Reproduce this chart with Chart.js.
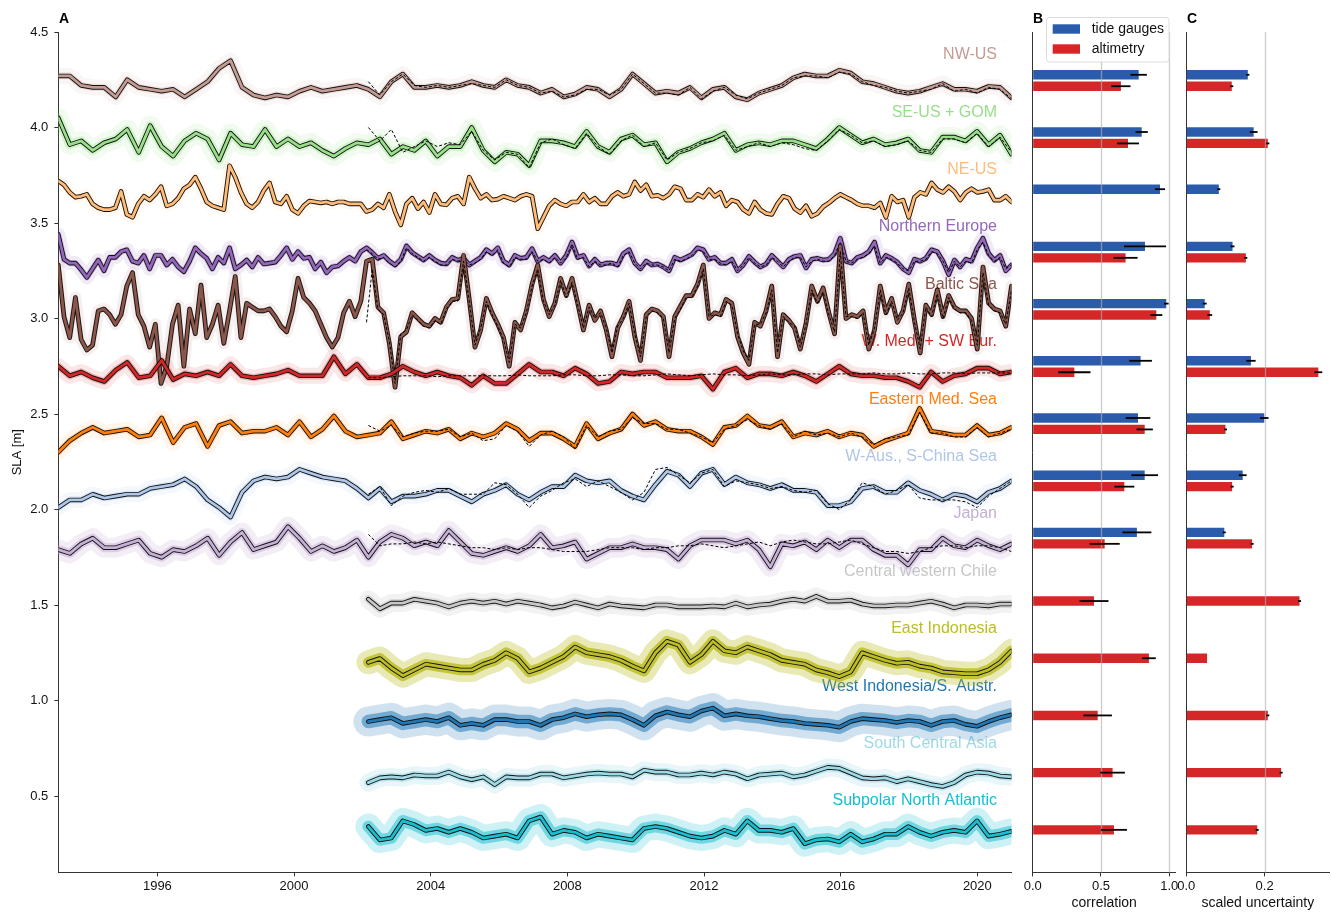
<!DOCTYPE html>
<html>
<head>
<meta charset="utf-8">
<title>Regional sea level anomalies</title>
<script src="https://cdn.jsdelivr.net/npm/chart.js@4.4.1/dist/chart.umd.min.js"></script>
<style>
  html, body { margin: 0; padding: 0; background: #fff; }
  #wrap { position: relative; width: 1332px; height: 912px; }
  #wrap canvas { position: absolute; left: 0; top: 0; }
</style>
</head>
<body>
<div id="wrap">
  <canvas id="panel-a" width="1332" height="912"></canvas>
  <canvas id="panel-b" width="1332" height="912"></canvas>
  <canvas id="panel-c" width="1332" height="912"></canvas>
</div>
<script>
// ---- time axis (records sampled every ~4 months, 1993 - 2021; the spikiest every ~2 months) ----
const T_FIRST = 1993.1;
const T_LAST = 2021.0;
const N_TIMES = 84;
const N_FINE = 168;

const regions = [
  "NW-US", "SE-US + GOM", "NE-US", "Northern Europe", "Baltic Sea",
  "W. Med. + SW Eur.", "Eastern Med. Sea", "W-Aus., S-China Sea", "Japan",
  "Central western Chile", "East Indonesia", "West Indonesia/S. Austr.",
  "South Central Asia", "Subpolar North Atlantic"
];
const regionColors = [
  "#c49c94", "#98df8a", "#ffbb78", "#9467bd", "#8c564b",
  "#d62728", "#ff7f0e", "#aec7e8", "#c5b0d5",
  "#c7c7c7", "#bcbd22", "#1f77b4",
  "#9edae5", "#17becf"
];

const yearTicks = [1996, 2000, 2004, 2008, 2012, 2016, 2020];
const slaTicks = [0.5, 1.0, 1.5, 2.0, 2.5, 3.0, 3.5, 4.0, 4.5];
const corrTicks = [0, 0.5, 1.0];
const uncTicks = [0, 0.2];

// ---- SLA reconstructions [m], offset per region as in the figure ----
const nwUs = [
  4.27, 4.27, 4.22, 4.21, 4.21, 4.16, 4.25, 4.21, 4.20, 4.19,
  4.20, 4.16, 4.20, 4.24, 4.31, 4.35, 4.21, 4.17, 4.155, 4.17,
  4.16, 4.19, 4.21, 4.19, 4.20, 4.21, 4.22, 4.20, 4.16, 4.24,
  4.28, 4.21, 4.21, 4.22, 4.21, 4.22, 4.24, 4.22, 4.21, 4.25,
  4.22, 4.21, 4.18, 4.20, 4.16, 4.175, 4.21, 4.20, 4.16, 4.20,
  4.28, 4.23, 4.18, 4.19, 4.18, 4.21, 4.155, 4.20, 4.21, 4.16,
  4.145, 4.18, 4.20, 4.22, 4.26, 4.28, 4.27, 4.27, 4.30, 4.285,
  4.24, 4.23, 4.21, 4.19, 4.18, 4.19, 4.21, 4.23, 4.20, 4.20,
  4.19, 4.215, 4.21, 4.155
];
const seUs = [
  4.05, 3.91, 3.93, 3.88, 3.92, 3.94, 3.99, 3.87, 4.01, 3.90,
  3.85, 3.93, 3.97, 3.94, 3.83, 3.97, 3.91, 3.90, 3.99, 3.90,
  3.94, 3.90, 3.92, 3.88, 3.85, 3.89, 3.92, 3.91, 3.94, 3.86,
  3.90, 3.88, 3.93, 3.85, 3.90, 3.90, 4.00, 3.88, 3.82, 3.87,
  3.86, 3.80, 3.93, 3.93, 3.92, 3.90, 3.98, 3.90, 3.87, 3.94,
  3.96, 3.91, 3.92, 3.82, 3.87, 3.89, 3.92, 3.94, 3.97, 3.88,
  3.91, 3.92, 3.91, 3.93, 3.93, 3.91, 3.89, 3.94, 4.00, 3.96,
  3.92, 3.94, 3.91, 3.92, 3.94, 3.88, 3.87, 3.95, 3.95, 3.93,
  3.98, 3.91, 3.96, 3.86
];
// NE-US, Northern Europe and Baltic read at twice the time resolution
const neUs = [
  3.72, 3.70, 3.66, 3.635, 3.64, 3.65, 3.60, 3.58, 3.57, 3.57,
  3.58, 3.665, 3.545, 3.53, 3.60, 3.64, 3.62, 3.65, 3.69, 3.59,
  3.60, 3.63, 3.68, 3.70, 3.74, 3.68, 3.61, 3.59, 3.58, 3.57,
  3.80, 3.74, 3.66, 3.60, 3.58, 3.61, 3.67, 3.71, 3.61, 3.60,
  3.64, 3.57, 3.55, 3.59, 3.615, 3.61, 3.605, 3.61, 3.60, 3.61,
  3.61, 3.60, 3.60, 3.60, 3.56, 3.57, 3.60, 3.58, 3.65, 3.56,
  3.49, 3.60, 3.63, 3.575, 3.61, 3.555, 3.65, 3.60, 3.595, 3.63,
  3.64, 3.60, 3.74, 3.68, 3.63, 3.65, 3.62, 3.625, 3.64, 3.63,
  3.62, 3.64, 3.65, 3.64, 3.47, 3.53, 3.59, 3.62, 3.60, 3.59,
  3.61, 3.61, 3.65, 3.61, 3.63, 3.60, 3.60, 3.64, 3.66, 3.64,
  3.65, 3.715, 3.67, 3.70, 3.64, 3.645, 3.63, 3.65, 3.69, 3.68,
  3.62, 3.62, 3.65, 3.635, 3.675, 3.64, 3.66, 3.59, 3.62, 3.61,
  3.57, 3.55, 3.61, 3.57, 3.55, 3.545, 3.60, 3.64, 3.63, 3.575,
  3.555, 3.59, 3.535, 3.55, 3.585, 3.605, 3.63, 3.65, 3.635, 3.62,
  3.60, 3.59, 3.59, 3.58, 3.605, 3.53, 3.64, 3.61, 3.62, 3.53,
  3.635, 3.66, 3.65, 3.71, 3.675, 3.66, 3.69, 3.665, 3.62, 3.66,
  3.68, 3.66, 3.665, 3.675, 3.62, 3.62, 3.64, 3.61
];
const northEurope = [
  3.44, 3.31, 3.29, 3.29, 3.255, 3.215, 3.26, 3.306, 3.25, 3.32,
  3.32, 3.35, 3.36, 3.30, 3.29, 3.33, 3.26, 3.33, 3.33, 3.28,
  3.31, 3.27, 3.245, 3.30, 3.37, 3.34, 3.315, 3.26, 3.32, 3.29,
  3.37, 3.26, 3.28, 3.306, 3.27, 3.32, 3.285, 3.29, 3.295, 3.33,
  3.37, 3.31, 3.35, 3.315, 3.32, 3.26, 3.295, 3.24, 3.27, 3.275,
  3.30, 3.32, 3.30, 3.35, 3.37, 3.345, 3.315, 3.33, 3.30, 3.28,
  3.31, 3.38, 3.345, 3.325, 3.306, 3.33, 3.306, 3.29, 3.285, 3.32,
  3.305, 3.315, 3.28, 3.30, 3.32, 3.36, 3.34, 3.37, 3.30, 3.28,
  3.33, 3.315, 3.32, 3.365, 3.30, 3.32, 3.30, 3.33, 3.29, 3.33,
  3.40, 3.32, 3.33, 3.275, 3.31, 3.28, 3.29, 3.29, 3.28, 3.34,
  3.36, 3.29, 3.26, 3.30, 3.28, 3.285, 3.27, 3.25, 3.32, 3.306,
  3.32, 3.335, 3.37, 3.36, 3.31, 3.32, 3.29, 3.29, 3.31, 3.25,
  3.28, 3.325, 3.295, 3.27, 3.285, 3.33, 3.30, 3.27, 3.31, 3.325,
  3.33, 3.265, 3.31, 3.315, 3.306, 3.31, 3.34, 3.42, 3.30, 3.29,
  3.32, 3.33, 3.35, 3.40, 3.29, 3.33, 3.315, 3.295, 3.26, 3.24,
  3.31, 3.30, 3.315, 3.36, 3.35, 3.30, 3.23, 3.306, 3.27, 3.31,
  3.30, 3.37, 3.42, 3.34, 3.305, 3.33, 3.25, 3.28
];
const baltic = [
  3.28, 3.01, 2.90, 3.11, 2.89, 2.835, 2.86, 3.04, 3.05, 3.02,
  2.97, 3.02, 3.17, 3.24, 3.02, 2.96, 2.85, 2.97, 2.66, 2.75,
  2.97, 3.07, 2.75, 3.05, 2.92, 3.175, 2.90, 2.97, 3.07, 2.87,
  3.04, 3.22, 2.90, 3.08, 3.06, 3.04, 3.04, 3.05, 3.01, 2.96,
  2.93, 3.04, 3.21, 3.11, 3.08, 3.04, 2.97, 2.90, 2.85, 2.90,
  3.03, 3.09, 3.01, 3.09, 3.30, 3.31, 3.06, 3.03, 2.87, 2.64,
  2.905, 2.93, 3.03, 3.00, 2.97, 2.96, 3.00, 2.98, 3.06, 3.10,
  3.105, 3.33, 3.10, 2.85, 2.94, 3.105, 3.03, 2.97, 2.90, 2.75,
  2.98, 2.94, 3.04, 3.18, 3.28, 3.10, 3.01, 3.08, 3.21, 3.12,
  3.21, 3.08, 2.94, 3.07, 2.99, 3.04, 2.94, 2.80, 2.95, 3.01,
  3.09, 2.905, 2.78, 3.02, 3.05, 3.04, 3.01, 2.80, 3.01, 3.065,
  3.12, 3.12, 3.18, 3.28, 3.00, 3.03, 3.02, 3.10, 3.08, 2.905,
  2.82, 2.76, 2.98, 2.96, 3.04, 3.17, 2.80, 3.02, 2.99, 2.95,
  2.84, 2.975, 3.17, 3.09, 3.16, 3.03, 2.92, 3.38, 3.00, 3.02,
  3.01, 3.04, 2.84, 2.94, 3.17, 3.03, 3.105, 2.98, 3.04, 3.18,
  2.99, 2.82, 3.07, 3.02, 3.15, 3.01, 3.12, 3.06, 3.04, 3.04,
  3.00, 2.84, 3.27, 3.08, 3.05, 3.04, 2.96, 3.17
];
const wMed = [
  2.75, 2.70, 2.72, 2.69, 2.67, 2.73, 2.77, 2.69, 2.70, 2.78,
  2.68, 2.71, 2.70, 2.72, 2.70, 2.76, 2.70, 2.69, 2.70, 2.71,
  2.73, 2.70, 2.70, 2.70, 2.80, 2.71, 2.76, 2.69, 2.69, 2.71,
  2.75, 2.72, 2.70, 2.72, 2.70, 2.69, 2.65, 2.70, 2.66, 2.66,
  2.71, 2.76, 2.72, 2.72, 2.70, 2.74, 2.71, 2.66, 2.67, 2.72,
  2.71, 2.72, 2.72, 2.69, 2.69, 2.69, 2.70, 2.63, 2.72, 2.74,
  2.69, 2.71, 2.71, 2.70, 2.72, 2.70, 2.67, 2.71, 2.75, 2.71,
  2.70, 2.70, 2.69, 2.69, 2.67, 2.64, 2.72, 2.67, 2.70, 2.71,
  2.74, 2.74, 2.71, 2.72
];
const eMed = [
  2.30, 2.36, 2.40, 2.43, 2.40, 2.41, 2.42, 2.38, 2.39, 2.48,
  2.35, 2.43, 2.45, 2.33, 2.44, 2.46, 2.40, 2.41, 2.41, 2.43,
  2.39, 2.46, 2.38, 2.42, 2.49, 2.41, 2.38, 2.39, 2.40, 2.46,
  2.37, 2.39, 2.41, 2.40, 2.42, 2.37, 2.40, 2.38, 2.40, 2.45,
  2.42, 2.36, 2.40, 2.40, 2.37, 2.33, 2.45, 2.37, 2.40, 2.42,
  2.50, 2.44, 2.46, 2.42, 2.41, 2.41, 2.38, 2.34, 2.43, 2.44,
  2.49, 2.44, 2.43, 2.46, 2.38, 2.40, 2.39, 2.41, 2.38, 2.40,
  2.39, 2.33, 2.36, 2.38, 2.40, 2.53, 2.41, 2.40, 2.39, 2.39,
  2.44, 2.39, 2.40, 2.43
];
const wAus = [
  2.01, 2.05, 2.05, 2.08, 2.06, 2.07, 2.08, 2.08, 2.11, 2.12,
  2.13, 2.16, 2.12, 2.05, 2.01, 1.96, 2.09, 2.15, 2.17, 2.16,
  2.17, 2.21, 2.19, 2.17, 2.16, 2.15, 2.11, 2.06, 2.11, 2.04,
  2.07, 2.07, 2.08, 2.10, 2.10, 2.07, 2.04, 2.08, 2.10, 2.13,
  2.08, 2.05, 2.09, 2.12, 2.12, 2.18, 2.15, 2.14, 2.15, 2.10,
  2.07, 2.05, 2.13, 2.20, 2.18, 2.12, 2.19, 2.21, 2.13, 2.17,
  2.14, 2.13, 2.11, 2.13, 2.10, 2.10, 2.09, 2.02, 2.02, 2.04,
  2.11, 2.12, 2.09, 2.09, 2.14, 2.10, 2.08, 2.05, 2.08, 2.07,
  2.04, 2.09, 2.11, 2.15
];
const japan = [
  1.79, 1.77, 1.82, 1.85, 1.80, 1.80, 1.82, 1.84, 1.77, 1.75,
  1.79, 1.78, 1.81, 1.85, 1.76, 1.83, 1.88, 1.79, 1.81, 1.83,
  1.91, 1.85, 1.78, 1.81, 1.78, 1.80, 1.84, 1.75, 1.83, 1.87,
  1.85, 1.81, 1.83, 1.81, 1.89, 1.83, 1.77, 1.76, 1.78, 1.80,
  1.78, 1.81, 1.87, 1.80, 1.81, 1.83, 1.74, 1.77, 1.80, 1.80,
  1.82, 1.80, 1.80, 1.79, 1.74, 1.81, 1.84, 1.84, 1.84, 1.82,
  1.84, 1.79, 1.70, 1.82, 1.81, 1.83, 1.79, 1.84, 1.80, 1.84,
  1.84, 1.79, 1.76, 1.76, 1.71, 1.79, 1.79, 1.85, 1.81, 1.80,
  1.84, 1.81, 1.79, 1.82
];
// altimetry-only regions start in 2002
const chile = [
  1.53, 1.48, 1.51, 1.51, 1.53, 1.52, 1.51, 1.49, 1.51, 1.52,
  1.51, 1.52, 1.505, 1.52, 1.51, 1.50, 1.485, 1.495, 1.515, 1.50,
  1.485, 1.505, 1.495, 1.49, 1.485, 1.50, 1.50, 1.49, 1.49, 1.49,
  1.495, 1.49, 1.51, 1.49, 1.50, 1.505, 1.52, 1.53, 1.52, 1.545,
  1.52, 1.52, 1.525, 1.505, 1.495, 1.495, 1.50, 1.50, 1.51, 1.52,
  1.505, 1.485, 1.50, 1.50, 1.495, 1.505, 1.505
];
const eastIndonesia = [
  1.20, 1.22, 1.17, 1.13, 1.16, 1.19, 1.18, 1.17, 1.16, 1.16,
  1.19, 1.21, 1.25, 1.22, 1.15, 1.17, 1.20, 1.23, 1.28, 1.25,
  1.24, 1.23, 1.21, 1.18, 1.155, 1.25, 1.31, 1.29, 1.20, 1.24,
  1.31, 1.26, 1.25, 1.28, 1.26, 1.24, 1.21, 1.20, 1.19, 1.16,
  1.145, 1.125, 1.15, 1.25, 1.23, 1.21, 1.195, 1.20, 1.18, 1.17,
  1.15, 1.145, 1.14, 1.14, 1.16, 1.20, 1.26
];
const westIndonesia = [
  0.89, 0.90, 0.91, 0.88, 0.89, 0.90, 0.89, 0.91, 0.87, 0.88,
  0.87, 0.90, 0.90, 0.89, 0.89, 0.87, 0.90, 0.91, 0.93, 0.915,
  0.925, 0.93, 0.925, 0.90, 0.87, 0.92, 0.94, 0.925, 0.915, 0.945,
  0.96, 0.92, 0.93, 0.92, 0.915, 0.905, 0.895, 0.89, 0.88, 0.875,
  0.87, 0.86, 0.89, 0.905, 0.90, 0.895, 0.885, 0.895, 0.89, 0.87,
  0.89, 0.895, 0.875, 0.865, 0.89, 0.91, 0.925
];
const southCentralAsia = [
  0.57, 0.595, 0.60, 0.595, 0.61, 0.605, 0.605, 0.625, 0.60, 0.585,
  0.60, 0.56, 0.60, 0.595, 0.595, 0.615, 0.615, 0.595, 0.605, 0.615,
  0.62, 0.615, 0.615, 0.60, 0.635, 0.625, 0.625, 0.61, 0.61, 0.62,
  0.61, 0.625, 0.615, 0.59, 0.61, 0.615, 0.62, 0.60, 0.61, 0.63,
  0.65, 0.645, 0.62, 0.595, 0.59, 0.595, 0.575, 0.59, 0.575, 0.56,
  0.55, 0.57, 0.61, 0.625, 0.62, 0.605, 0.60
];
const subpolarAtlantic = [
  0.34, 0.27, 0.28, 0.37, 0.35, 0.32, 0.33, 0.31, 0.33, 0.31,
  0.28, 0.29, 0.30, 0.28, 0.37, 0.39, 0.30, 0.32, 0.31, 0.28,
  0.30, 0.29, 0.28, 0.27, 0.33, 0.34, 0.33, 0.31, 0.29, 0.28,
  0.29, 0.32, 0.30, 0.37, 0.32, 0.32, 0.31, 0.33, 0.25, 0.27,
  0.275, 0.26, 0.30, 0.26, 0.275, 0.30, 0.30, 0.34, 0.31, 0.29,
  0.31, 0.32, 0.31, 0.37, 0.29, 0.30, 0.315
];

// ---- comparison records from 2002 (dashed black) ----
const nwUsAlt = [
  4.24, 4.17, 4.24, 4.28, 4.22, 4.21, 4.22, 4.21, 4.22, 4.23,
  4.22, 4.21, 4.25, 4.22, 4.21, 4.18, 4.19, 4.16, 4.17, 4.20,
  4.20, 4.17, 4.20, 4.28, 4.23, 4.18, 4.18, 4.17, 4.21, 4.15,
  4.19, 4.21, 4.17, 4.15, 4.18, 4.20, 4.22, 4.26, 4.27, 4.27,
  4.26, 4.29, 4.28, 4.24, 4.22, 4.21, 4.19, 4.18, 4.19, 4.20,
  4.23, 4.19, 4.20, 4.18, 4.21, 4.20, 4.15
];
const seUsAlt = [
  4.00, 3.93, 3.99, 3.87, 3.90, 3.93, 3.90, 3.92, 3.91, 3.98,
  3.88, 3.83, 3.87, 3.86, 3.79, 3.92, 3.94, 3.91, 3.89, 3.97,
  3.90, 3.86, 3.93, 3.96, 3.90, 3.92, 3.83, 3.87, 3.89, 3.92,
  3.93, 3.96, 3.88, 3.90, 3.92, 3.90, 3.92, 3.91, 3.89, 3.88,
  3.93, 3.99, 3.96, 3.92, 3.93, 3.90, 3.91, 3.93, 3.88, 3.87,
  3.94, 3.94, 3.92, 3.97, 3.90, 3.95, 3.87
];
const northEuropeAlt = [
  3.36, 3.34, 3.31, 3.32, 3.29, 3.27,
  3.30, 3.37, 3.34, 3.32, 3.30, 3.32, 3.30, 3.28, 3.28, 3.31,
  3.30, 3.31, 3.28, 3.29, 3.31, 3.35, 3.33, 3.36, 3.29, 3.27,
  3.32, 3.31, 3.31, 3.35, 3.30, 3.31, 3.29, 3.32, 3.29, 3.32,
  3.39, 3.31, 3.32, 3.27, 3.30, 3.28, 3.28, 3.29, 3.27, 3.33,
  3.35, 3.29, 3.26, 3.29, 3.28, 3.28, 3.27, 3.25, 3.31, 3.30,
  3.31, 3.33, 3.36, 3.35, 3.31, 3.31, 3.29, 3.28, 3.30, 3.25,
  3.28, 3.32, 3.29, 3.27, 3.28, 3.32, 3.30, 3.27, 3.30, 3.32,
  3.32, 3.27, 3.30, 3.31, 3.30, 3.30, 3.33, 3.40, 3.30, 3.29,
  3.31, 3.32, 3.34, 3.38, 3.29, 3.32, 3.31, 3.29, 3.26, 3.25,
  3.30, 3.30, 3.31, 3.35, 3.34, 3.30, 3.24, 3.30, 3.27, 3.30,
  3.29, 3.36, 3.40, 3.33, 3.30, 3.32, 3.26, 3.28
];
const balticAlt = [
  2.98, 3.26, 3.05, 3.02, 2.88, 2.66,
  2.92, 2.94, 3.02, 2.99, 2.96, 2.95, 2.99, 2.97, 3.05, 3.09,
  3.09, 3.30, 3.09, 2.86, 2.95, 3.09, 3.02, 2.96, 2.89, 2.77,
  2.97, 2.95, 3.03, 3.17, 3.26, 3.09, 3.02, 3.07, 3.20, 3.11,
  3.19, 3.07, 2.95, 3.06, 3.00, 3.03, 2.95, 2.82, 2.96, 3.00,
  3.08, 2.92, 2.80, 3.01, 3.04, 3.03, 3.00, 2.82, 3.00, 3.05,
  3.11, 3.11, 3.17, 3.26, 3.01, 3.02, 3.01, 3.09, 3.07, 2.92,
  2.83, 2.78, 2.97, 2.97, 3.03, 3.15, 2.82, 3.01, 2.98, 2.96,
  2.85, 2.97, 3.15, 3.08, 3.14, 3.02, 2.93, 3.35, 3.01, 3.01,
  3.00, 3.03, 2.86, 2.95, 3.15, 3.02, 3.09, 2.99, 3.03, 3.16,
  2.98, 2.84, 3.06, 3.01, 3.13, 3.00, 3.11, 3.05, 3.03, 3.03,
  2.99, 2.86, 3.24, 3.07, 3.04, 3.03, 2.97, 3.15
];
const wMedAlt = [
  2.690, 2.690, 2.695, 2.700, 2.700, 2.700, 2.695, 2.700, 2.700, 2.700,
  2.700, 2.700, 2.700, 2.705, 2.700, 2.700, 2.700, 2.705, 2.705, 2.700,
  2.700, 2.705, 2.705, 2.700, 2.700, 2.705, 2.710, 2.705, 2.700, 2.705,
  2.710, 2.705, 2.705, 2.700, 2.705, 2.710, 2.705, 2.705, 2.710, 2.710,
  2.705, 2.710, 2.710, 2.710, 2.715, 2.710, 2.710, 2.715, 2.710, 2.710,
  2.715, 2.715, 2.710, 2.715, 2.715, 2.715, 2.715
];
const eMedAlt = [
  2.44, 2.41, 2.44, 2.38, 2.40, 2.41, 2.41, 2.42, 2.38, 2.40,
  2.36, 2.37, 2.44, 2.41, 2.33, 2.39, 2.41, 2.38, 2.32, 2.44,
  2.38, 2.41, 2.42, 2.48, 2.45, 2.45, 2.42, 2.42, 2.40, 2.38,
  2.35, 2.42, 2.44, 2.47, 2.44, 2.42, 2.45, 2.38, 2.41, 2.39,
  2.40, 2.38, 2.40, 2.38, 2.34, 2.37, 2.38, 2.39, 2.51, 2.40,
  2.40, 2.38, 2.38, 2.43, 2.38, 2.40, 2.42
];
const wAusAlt = [
  2.08, 2.12, 2.02, 2.07, 2.09, 2.10, 2.09, 2.11, 2.08, 2.08,
  2.08, 2.14, 2.13, 2.08, 2.01, 2.07, 2.10, 2.14, 2.16, 2.12,
  2.15, 2.12, 2.09, 2.05, 2.09, 2.21, 2.22, 2.18, 2.14, 2.19,
  2.21, 2.12, 2.15, 2.14, 2.13, 2.11, 2.12, 2.10, 2.09, 2.10,
  2.03, 2.00, 2.05, 2.14, 2.12, 2.08, 2.10, 2.13, 2.06, 2.05,
  2.05, 2.05, 2.04, 2.01, 2.07, 2.11, 2.15
];
const japanAlt = [
  1.87, 1.81, 1.82, 1.82, 1.83, 1.82, 1.83, 1.82, 1.81, 1.80,
  1.80, 1.79, 1.80, 1.79, 1.80, 1.80, 1.79, 1.78, 1.78, 1.78,
  1.79, 1.80, 1.80, 1.80, 1.79, 1.80, 1.80, 1.81, 1.81, 1.82,
  1.81, 1.80, 1.81, 1.82, 1.83, 1.81, 1.83, 1.84, 1.83, 1.82,
  1.82, 1.83, 1.84, 1.82, 1.80, 1.78, 1.78, 1.77, 1.78, 1.80,
  1.81, 1.81, 1.80, 1.81, 1.81, 1.80, 1.78
];

const slaSeries = [
  nwUs, seUs, neUs, northEurope, baltic, wMed, eMed, wAus, japan,
  chile, eastIndonesia, westIndonesia, southCentralAsia, subpolarAtlantic
];
const altSeries = [
  nwUsAlt, seUsAlt, null, northEuropeAlt, balticAlt, wMedAlt, eMedAlt, wAusAlt, japanAlt,
  null, null, null, null, null
];

// ---- panel B: correlation, panel C: scaled uncertainty ----
const tgCorr = [0.776, 0.798, 0.932, 0.822, 0.978, 0.790, 0.771, 0.820, 0.763, null, null, null, null, null];
const tgCorrErr = [0.06, 0.045, 0.037, 0.154, 0.017, 0.083, 0.09, 0.098, 0.106, null, null, null, null, null];
const altCorr = [0.646, 0.698, null, 0.680, 0.905, 0.305, 0.820, 0.671, 0.527, 0.449, 0.851, 0.476, 0.585, 0.595];
const altCorrErr = [0.07, 0.08, null, 0.088, 0.044, 0.118, 0.06, 0.073, 0.11, 0.106, 0.05, 0.104, 0.09, 0.095];
const tgUnc = [0.157, 0.172, 0.083, 0.118, 0.047, 0.165, 0.199, 0.144, 0.097, null, null, null, null, null];
const tgUncErr = [0.004, 0.01, 0.003, 0.005, 0.005, 0.012, 0.011, 0.01, 0.003, null, null, null, null, null];
const altUnc = [0.116, 0.208, null, 0.152, 0.060, 0.337, 0.100, 0.117, 0.168, 0.289, 0.053, 0.208, 0.242, 0.181];
const altUncErr = [0.003, 0.004, null, 0.003, 0.006, 0.01, 0.003, 0.003, 0.003, 0.003, 0, 0.003, 0.003, 0.003];

(function () {
  "use strict";

  const FONT = '"Liberation Sans", Arial, Helvetica, sans-serif';
  const AXIS_COLOR = "#333";
  const TG_BLUE = "#2b5cab";
  const ALT_RED = "#d62728";

  // ensemble spread look: wide translucent stroke under each line
  const haloWidth = [16, 20, 12, 14, 12, 16, 16, 16, 20, 18, 24, 30, 18, 26];
  const haloAlpha = [0.16, 0.22, 0.14, 0.22, 0.15, 0.18, 0.12, 0.22, 0.35, 0.38, 0.55, 0.35, 0.40, 0.35];

  Chart.defaults.font.family = FONT;
  Chart.defaults.font.size = 13;
  Chart.defaults.color = "#111";

  function timeGrid(n) {
    return Array.from({ length: n }, (_, i) => T_FIRST + (i * (T_LAST - T_FIRST)) / (n - 1));
  }
  const times = timeGrid(N_TIMES);
  const timesFine = timeGrid(N_FINE);

  function rgba(hex, a) {
    const n = parseInt(hex.slice(1), 16);
    return `rgba(${(n >> 16) & 255},${(n >> 8) & 255},${n & 255},${a})`;
  }

  // records end in 2021; shorter ones start later on the same grid
  function toPoints(values) {
    const grid = values.length > N_TIMES ? timesFine : times;
    const offset = grid.length - values.length;
    return values.map((v, i) => ({ x: grid[offset + i], y: v }));
  }

  function lineDataset(points, color, width, order, extra) {
    return Object.assign(
      {
        data: points,
        borderColor: color,
        borderWidth: width,
        pointRadius: 0,
        tension: 0,
        fill: false,
        order: order,
        borderJoinStyle: "round",
        borderCapStyle: "round",
      },
      extra || {}
    );
  }

  function buildSeriesDatasets() {
    const datasets = [];
    slaSeries.forEach((values, r) => {
      const pts = toPoints(values);
      const color = regionColors[r];
      datasets.push(lineDataset(pts, rgba(color, haloAlpha[r] * 0.6), haloWidth[r], 2000 - 2 * r));
      datasets.push(lineDataset(pts, rgba(color, Math.min(1, haloAlpha[r] * 1.5)), haloWidth[r] * 0.45, 1999 - 2 * r));
      datasets.push(lineDataset(pts, "#111", 4.6, 300 - 3 * r));
      datasets.push(lineDataset(pts, color, 2.8, 299 - 3 * r));
      if (altSeries[r]) {
        datasets.push(
          lineDataset(toPoints(altSeries[r]), "#000", 1, 298 - 3 * r, {
            borderDash: [3, 2],
            borderCapStyle: "butt",
            borderJoinStyle: "miter",
          })
        );
      }
    });
    return datasets;
  }

  // region names, right aligned inside panel A
  const regionLabelPlugin = {
    id: "regionLabels",
    beforeDatasetsDraw(chart) {
      const ctx = chart.ctx;
      ctx.save();
      ctx.font = "16px " + FONT;
      ctx.textAlign = "right";
      ctx.textBaseline = "middle";
      regions.forEach((name, r) => {
        ctx.fillStyle = regionColors[r];
        ctx.fillText(name, 997, 54.7 + r * 57.4);
      });
      ctx.restore();
    },
  };

  function panelLetter(letter, x) {
    return {
      id: "letter" + letter,
      afterDraw(chart) {
        const ctx = chart.ctx;
        ctx.save();
        ctx.font = "bold 14px " + FONT;
        ctx.fillStyle = "#000";
        ctx.textAlign = "left";
        ctx.textBaseline = "middle";
        ctx.fillText(letter, x, 19);
        ctx.restore();
      },
    };
  }

  // light vertical reference lines drawn over the bars
  function refLinePlugin(values) {
    return {
      id: "refLines",
      afterDatasetsDraw(chart) {
        const ctx = chart.ctx;
        const xs = chart.scales.x;
        const area = chart.chartArea;
        ctx.save();
        ctx.strokeStyle = "rgba(175,175,175,0.65)";
        ctx.lineWidth = 1.3;
        values.forEach((v) => {
          const px = Math.round(xs.getPixelForValue(v)) + 0.5;
          ctx.beginPath();
          ctx.moveTo(px, area.top);
          ctx.lineTo(px, area.bottom);
          ctx.stroke();
        });
        ctx.restore();
      },
    };
  }

  const errorBarPlugin = {
    id: "errorBars",
    afterDatasetsDraw(chart) {
      const ctx = chart.ctx;
      const xs = chart.scales.x;
      ctx.save();
      ctx.strokeStyle = "#000";
      ctx.lineWidth = 1.8;
      chart.data.datasets.forEach((ds, d) => {
        const meta = chart.getDatasetMeta(d);
        meta.data.forEach((bar, i) => {
          const pt = ds.data[i];
          if (!pt || !pt.err) return;
          let x0 = xs.getPixelForValue(pt.x - pt.err);
          let x1 = xs.getPixelForValue(pt.x + pt.err);
          if (x1 - x0 < 3) {
            const mid = (x0 + x1) / 2;
            x0 = mid - 1.5;
            x1 = mid + 1.5;
          }
          ctx.beginPath();
          ctx.moveTo(x0, bar.y);
          ctx.lineTo(x1, bar.y);
          ctx.stroke();
        });
      });
      ctx.restore();
    },
  };

  const legendPlugin = {
    id: "barLegend",
    afterDraw(chart) {
      const ctx = chart.ctx;
      ctx.save();
      ctx.fillStyle = "rgba(255,255,255,0.85)";
      ctx.strokeStyle = "#dcdcdc";
      ctx.lineWidth = 1;
      ctx.beginPath();
      ctx.roundRect(1046.5, 17.5, 122.5, 44.5, 3);
      ctx.fill();
      ctx.stroke();
      const items = [
        ["tide gauges", TG_BLUE, 29],
        ["altimetry", ALT_RED, 49],
      ];
      ctx.font = "14px " + FONT;
      ctx.textAlign = "left";
      ctx.textBaseline = "middle";
      items.forEach(([text, color, y]) => {
        ctx.fillStyle = color;
        ctx.fillRect(1052.7, y - 4.7, 27.3, 9.4);
        ctx.fillStyle = "#111";
        ctx.fillText(text, 1091.7, y);
      });
      ctx.restore();
    },
  };

  function renderPanelA() {
    return new Chart(document.getElementById("panel-a"), {
      type: "line",
      data: { datasets: buildSeriesDatasets() },
      options: {
        responsive: false,
        animation: false,
        devicePixelRatio: 1,
        events: [],
        layout: { padding: { left: 0, right: 320.5, top: 32, bottom: 0 } },
        plugins: { legend: { display: false }, tooltip: { enabled: false } },
        scales: {
          x: {
            type: "linear",
            min: T_FIRST,
            max: T_LAST,
            afterBuildTicks: (s) => {
              s.ticks = yearTicks.map((v) => ({ value: v }));
            },
            afterFit: (s) => {
              s.height = 39.6;
            },
            ticks: { padding: 2, color: "#111", callback: (v) => String(v) },
            grid: { drawOnChartArea: false, tickLength: 4, tickColor: AXIS_COLOR },
            border: { color: AXIS_COLOR, width: 1 },
          },
          y: {
            type: "linear",
            min: 0.1,
            max: 4.5,
            afterBuildTicks: (s) => {
              s.ticks = slaTicks.map((v) => ({ value: v }));
            },
            afterFit: (s) => {
              s.width = 58.3;
            },
            ticks: { padding: 6, color: "#111", callback: (v) => Number(v).toFixed(1) },
            grid: { drawOnChartArea: false, tickLength: 4, tickColor: AXIS_COLOR },
            border: { color: AXIS_COLOR, width: 1 },
            title: { display: true, text: "SLA [m]", color: "#111", font: { size: 13 }, padding: { top: 10, bottom: 0 } },
          },
        },
      },
      plugins: [regionLabelPlugin, panelLetter("A", 59)],
    });
  }

  function barPoints(values, errors) {
    const pts = [];
    values.forEach((v, row) => {
      if (v !== null) pts.push({ x: v, y: row, err: errors[row] || 0 });
    });
    return pts;
  }

  function renderBarPanel(canvasId, opts) {
    return new Chart(document.getElementById(canvasId), {
      type: "bar",
      data: {
        datasets: [
          {
            label: "tide gauges",
            data: barPoints(opts.tg, opts.tgErr),
            backgroundColor: TG_BLUE,
            borderWidth: 0,
            categoryPercentage: 0.4,
            barPercentage: 0.82,
          },
          {
            label: "altimetry",
            data: barPoints(opts.alt, opts.altErr),
            backgroundColor: ALT_RED,
            borderWidth: 0,
            categoryPercentage: 0.4,
            barPercentage: 0.82,
          },
        ],
      },
      options: {
        indexAxis: "y",
        responsive: false,
        animation: false,
        devicePixelRatio: 1,
        events: [],
        layout: { padding: { left: opts.left, right: 1332 - opts.right, top: 32, bottom: 0 } },
        plugins: { legend: { display: false }, tooltip: { enabled: false } },
        scales: {
          x: {
            type: "linear",
            min: 0,
            max: opts.max,
            afterBuildTicks: (s) => {
              s.ticks = opts.ticks.map((v) => ({ value: v }));
            },
            afterFit: (s) => {
              s.height = 39.6;
            },
            ticks: { padding: 2, color: "#111", callback: (v) => Number(v).toFixed(1) },
            grid: { drawOnChartArea: false, tickLength: 4, tickColor: AXIS_COLOR },
            border: { color: AXIS_COLOR, width: 1 },
            title: { display: true, text: opts.title, color: "#111", font: { size: 14 }, padding: { top: 0, bottom: 0 } },
          },
          y: {
            type: "linear",
            reverse: true,
            offset: false,
            min: -0.848,
            max: 13.844,
            afterBuildTicks: (s) => {
              s.ticks = regions.map((_, i) => ({ value: i }));
            },
            afterFit: (s) => {
              s.width = 0;
            },
            ticks: { display: false },
            grid: { display: false, offset: false },
            border: { display: true, color: AXIS_COLOR, width: 1 },
          },
        },
      },
      plugins: opts.plugins,
    });
  }

  renderPanelA();
  renderBarPanel("panel-b", {
    tg: tgCorr, tgErr: tgCorrErr, alt: altCorr, altErr: altCorrErr,
    left: 1032.7, right: 1175.7, max: 1.047, ticks: corrTicks, title: "correlation",
    plugins: [refLinePlugin([0.5, 1.0]), errorBarPlugin, legendPlugin, panelLetter("B", 1033)],
  });
  renderBarPanel("panel-c", {
    tg: tgUnc, tgErr: tgUncErr, alt: altUnc, altErr: altUncErr,
    left: 1186.3, right: 1329.3, max: 0.365, ticks: uncTicks, title: "scaled uncertainty",
    plugins: [refLinePlugin([0.2]), errorBarPlugin, panelLetter("C", 1187)],
  });
})();
</script>
</body>
</html>
